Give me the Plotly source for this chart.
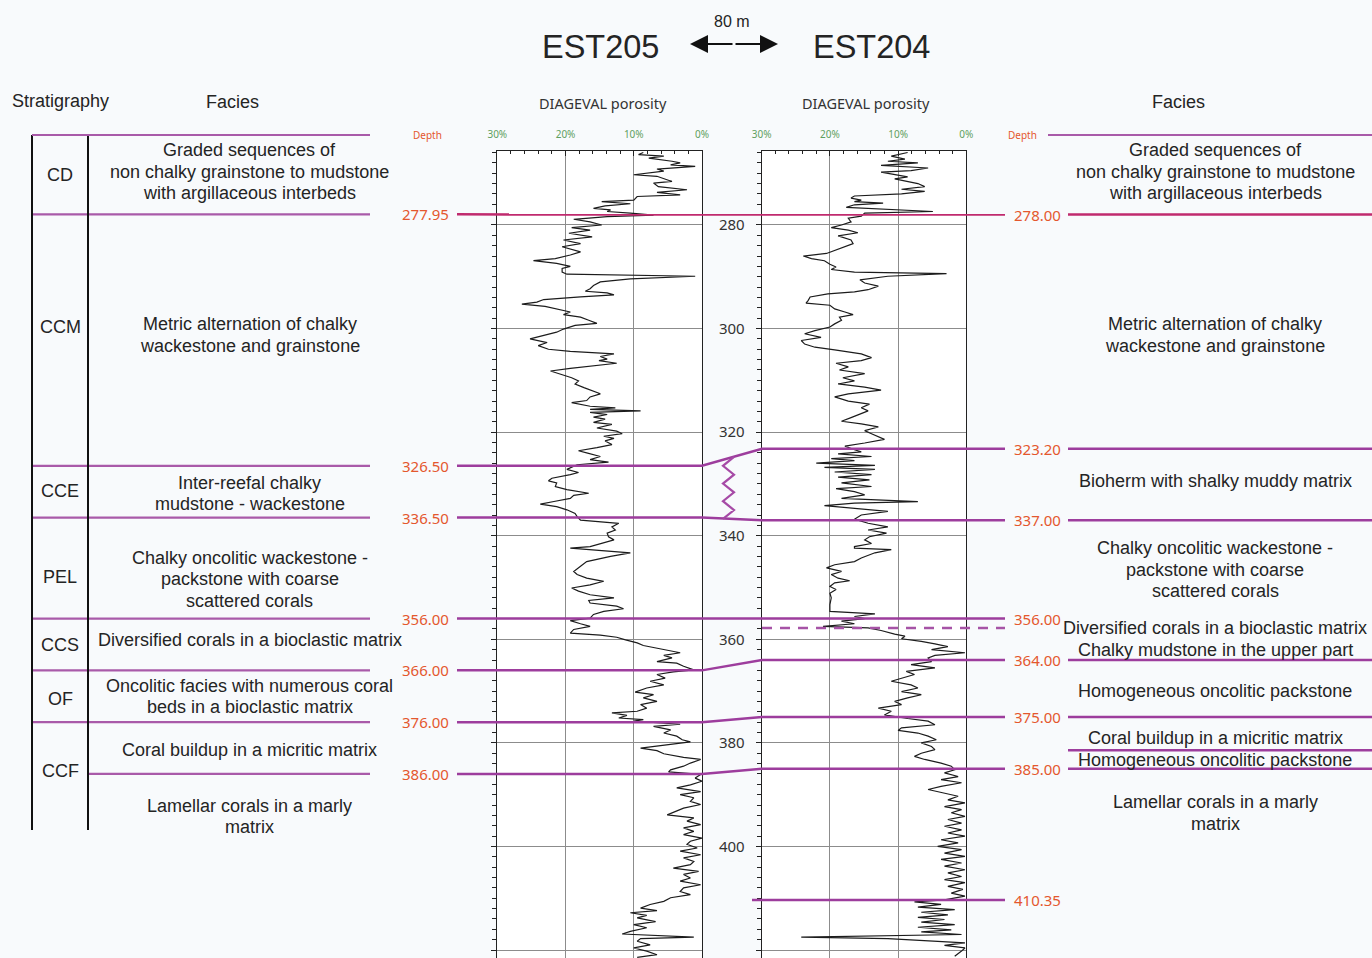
import plotly.graph_objects as go

# ---------------- porosity logs: depth (m) and DIAGEVAL porosity (%) ----------------
est205_depth = [
    266.0, 266.4, 266.7, 267.1, 267.7, 268.0, 268.4, 268.7, 269.2, 269.6,
    270.3, 270.6, 271.6, 271.9, 272.6, 273.2, 273.7, 274.2, 274.5, 275.2,
    275.5, 275.9, 276.3, 276.8, 277.1, 277.4, 277.7, 278.1, 278.4, 278.9,
    279.4, 280.0, 280.5, 281.0, 281.6, 282.3, 282.9, 283.6, 284.2, 285.2,
    285.8, 286.5, 286.9, 287.4, 288.0, 288.4, 289.1, 289.5, 289.9, 290.4,
    291.0, 291.7, 292.3, 292.8, 293.1, 293.5, 293.9, 294.4, 294.9, 295.3,
    295.7, 296.2, 296.8, 297.3, 297.8, 298.4, 299.0, 299.4, 300.1, 300.7,
    301.4, 302.0, 302.7, 303.3, 304.0, 304.4, 304.9, 305.4, 305.9, 306.2,
    306.7, 307.2, 307.7, 308.2, 308.8, 309.5, 310.1, 310.7, 311.4, 312.0,
    312.6, 313.2, 313.9, 314.3, 315.0, 315.3, 315.6, 315.9, 316.2, 316.6,
    317.1, 317.5, 318.1, 318.5, 319.2, 319.8, 320.3, 320.8, 321.2, 321.7,
    322.4, 323.0, 323.6, 324.0, 324.7, 325.3, 325.8, 326.3, 326.8, 327.2,
    327.8, 328.2, 328.9, 329.4, 329.8, 330.5, 331.1, 331.8, 332.2, 332.8,
    333.4, 333.9, 334.4, 335.0, 335.7, 336.3, 337.0, 337.6, 338.3, 338.9,
    339.5, 340.2, 340.8, 341.5, 342.1, 342.4, 343.3, 344.0, 345.0, 345.9,
    346.9, 347.5, 348.2, 348.8, 349.5, 350.1, 350.7, 351.4, 352.0, 352.5,
    353.0, 353.6, 354.1, 354.6, 355.2, 355.9, 356.4, 357.0, 357.5, 358.1,
    358.8, 359.2, 359.6, 360.1, 360.7, 361.2, 361.7, 362.2, 362.6, 363.1,
    363.6, 364.3, 364.6, 365.2, 365.9, 366.3, 366.8, 367.5, 368.1, 368.8,
    369.4, 370.2, 370.7, 371.3, 372.0, 372.6, 373.3, 373.9, 374.2, 374.7,
    375.2, 375.5, 375.8, 376.4, 376.8, 377.5, 378.1, 378.7, 379.4, 379.8,
    380.3, 381.0, 381.5, 382.1, 382.8, 383.2, 383.9, 384.5, 385.2, 385.6,
    386.1, 386.8, 387.4, 388.1, 388.7, 389.4, 390.0, 390.6, 391.3, 391.9,
    392.6, 393.2, 393.9, 394.5, 395.1, 395.8, 396.4, 397.1, 397.7, 398.4,
    399.0, 399.6, 400.3, 400.9, 401.6, 402.2, 402.9, 403.5, 404.2, 404.8,
    405.4, 406.1, 406.7, 407.4, 408.0, 408.7, 409.3, 409.9, 410.6, 411.2,
    411.9, 412.4, 412.8, 413.3, 413.8, 414.5, 415.1, 415.7, 416.4, 416.9,
    417.5, 417.8, 418.3, 419.0, 419.6, 420.2, 420.9, 421.4,
]
est205_phi = [
    8.6, 9.3, 5.6, 7.8, 4.4, 3.2, 4.6, 1.0, 6.6, 5.6,
    10.0, 6.6, 4.4, 7.1, 6.4, 2.2, 6.6, 3.2, 9.5, 10.0,
    14.7, 10.5, 14.2, 15.9, 13.4, 13.9, 10.5, 7.1, 13.9, 18.8,
    16.4, 14.7, 19.1, 16.4, 19.5, 16.1, 20.3, 17.8, 20.5, 17.8,
    19.3, 21.5, 24.7, 21.3, 19.3, 20.5, 20.5, 19.8, 1.0, 10.5,
    14.9, 15.9, 16.4, 17.1, 13.9, 12.9, 17.8, 23.2, 24.2, 26.4,
    23.0, 21.3, 19.3, 20.3, 17.8, 16.6, 15.4, 18.6, 20.3, 21.3,
    23.5, 25.2, 22.7, 24.0, 22.5, 19.3, 12.9, 14.9, 13.9, 15.1,
    12.5, 16.4, 19.3, 22.2, 20.8, 19.1, 18.1, 18.6, 17.3, 16.1,
    14.9, 16.4, 16.9, 19.1, 16.4, 12.7, 16.4, 9.0, 16.4, 13.9,
    15.9, 14.2, 15.9, 13.2, 15.4, 12.5, 11.7, 14.4, 12.9, 14.2,
    13.2, 15.4, 18.1, 16.9, 14.9, 16.4, 13.7, 18.3, 19.1, 19.8,
    18.1, 19.3, 22.0, 22.5, 21.3, 21.5, 19.8, 16.6, 18.8, 19.3,
    21.7, 23.7, 21.3, 19.8, 18.6, 18.3, 17.8, 12.2, 13.2, 12.7,
    13.9, 13.7, 12.9, 14.9, 16.4, 19.3, 10.5, 13.4, 16.9, 17.8,
    18.8, 18.3, 16.9, 14.4, 16.4, 19.1, 18.1, 16.4, 12.9, 16.6,
    16.4, 12.5, 11.5, 14.4, 15.9, 16.4, 19.3, 17.8, 16.4, 18.8,
    19.3, 14.9, 12.5, 11.2, 9.5, 8.6, 6.6, 4.6, 3.2, 5.6,
    4.4, 6.6, 3.7, 2.7, 1.2, 4.2, 6.6, 5.4, 7.6, 5.6,
    8.1, 9.8, 7.1, 8.6, 6.6, 9.0, 8.1, 9.5, 13.2, 11.0,
    12.2, 8.6, 10.0, 3.2, 7.1, 4.6, 5.6, 3.7, 2.9, 1.7,
    5.1, 9.0, 6.6, 5.6, 2.7, 0.2, 1.7, 2.7, 4.6, 4.9,
    0.2, 1.0, 0.0, 1.7, 3.7, 0.2, 3.2, 1.2, 1.7, 0.2,
    2.7, 3.7, 5.1, 1.2, 2.2, 0.2, 2.7, 1.2, 2.7, 0.0,
    1.7, 2.2, 0.7, 3.2, 0.2, 2.7, 1.2, 1.7, 4.2, 0.5,
    2.7, 1.7, 3.2, 0.2, 2.7, 3.2, 1.7, 4.6, 5.6, 7.6,
    9.0, 6.6, 10.5, 8.1, 9.5, 6.8, 10.0, 8.1, 10.5, 11.7,
    1.2, 9.0, 9.5, 7.6, 10.0, 8.1, 6.6, 9.5,
]

est204_depth = [
    266.0, 266.4, 266.7, 267.3, 267.7, 268.0, 268.5, 269.0, 269.5, 269.8,
    270.3, 270.7, 271.1, 271.6, 272.0, 272.6, 273.1, 273.5, 274.0, 274.4,
    274.8, 275.2, 275.5, 275.8, 276.1, 276.6, 277.1, 277.4, 277.7, 278.3,
    278.7, 279.4, 280.0, 280.5, 281.0, 281.5, 282.1, 282.9, 283.6, 284.2,
    284.9, 285.5, 286.0, 286.5, 286.9, 287.6, 288.1, 288.6, 289.1, 289.4,
    289.9, 290.6, 291.2, 291.8, 292.5, 292.9, 293.3, 293.9, 294.6, 295.1,
    295.5, 296.2, 296.8, 297.3, 297.8, 298.4, 299.1, 299.7, 300.4, 301.0,
    301.7, 302.3, 303.0, 303.6, 304.1, 304.9, 305.6, 306.2, 306.7, 307.4,
    308.0, 308.7, 309.5, 310.1, 310.7, 311.3, 311.9, 312.6, 313.2, 314.0,
    314.6, 315.3, 315.9, 316.6, 317.2, 317.9, 318.4, 319.0, 319.7, 320.3,
    321.0, 321.4, 322.1, 322.7, 323.4, 323.8, 324.2, 324.7, 325.1, 325.5,
    326.0, 326.4, 326.8, 327.2, 327.7, 328.2, 328.7, 329.2, 329.8, 330.5,
    330.9, 331.5, 332.1, 332.8, 333.4, 333.7, 334.2, 334.7, 335.3, 336.0,
    336.8, 337.6, 338.3, 338.9, 339.5, 340.2, 340.8, 341.5, 342.1, 342.4,
    342.7, 343.3, 344.3, 345.0, 345.6, 346.2, 346.9, 347.5, 348.2, 348.7,
    349.1, 349.8, 350.4, 351.1, 352.0, 353.3, 354.6, 355.1, 355.6, 356.0,
    356.5, 357.0, 357.5, 357.8, 358.3, 359.0, 359.4, 359.9, 360.4, 360.9,
    361.4, 362.0, 362.6, 363.1, 363.6, 364.3, 364.9, 365.5, 366.2, 366.8,
    367.5, 368.1, 368.8, 369.4, 370.1, 370.7, 371.3, 372.0, 372.6, 373.3,
    373.9, 374.6, 375.3, 375.8, 376.5, 377.1, 377.6, 378.1, 378.7, 379.4,
    380.0, 380.7, 381.3, 382.0, 382.6, 383.2, 383.9, 384.5, 385.2, 385.8,
    386.5, 387.1, 387.7, 388.4, 389.0, 389.7, 390.3, 391.0, 391.6, 392.3,
    392.9, 393.5, 394.2, 394.8, 395.5, 396.1, 396.8, 397.4, 398.0, 398.7,
    399.3, 400.0, 400.6, 401.3, 401.9, 402.5, 403.2, 403.8, 404.5, 405.1,
    405.8, 406.4, 407.0, 407.7, 408.3, 409.0, 409.6, 410.3, 410.7, 411.2,
    411.7, 412.2, 412.7, 413.2, 413.7, 414.1, 414.6, 415.1, 415.6, 416.1,
    416.5, 417.0, 417.5, 417.8, 418.2, 418.6, 419.1, 419.6, 420.2, 421.2,
]
est204_phi = [
    8.6, 10.0, 11.0, 9.0, 11.5, 7.1, 12.5, 5.6, 8.1, 12.5,
    10.0, 8.6, 10.5, 8.6, 7.1, 6.1, 9.5, 6.1, 9.5, 16.4,
    16.9, 15.4, 16.4, 12.2, 16.4, 17.6, 10.0, 4.9, 14.9, 15.4,
    17.3, 16.9, 18.3, 19.8, 17.3, 15.9, 18.8, 16.9, 16.6, 17.8,
    19.3, 20.5, 23.9, 22.7, 20.8, 20.0, 19.1, 19.8, 16.4, 2.9,
    11.5, 15.6, 14.9, 12.9, 14.4, 16.4, 20.3, 22.9, 23.2, 23.5,
    20.0, 19.3, 17.8, 16.6, 18.6, 18.3, 19.3, 20.0, 22.2, 23.7,
    21.3, 24.2, 23.7, 22.2, 19.3, 15.4, 13.9, 15.4, 19.1, 17.3,
    18.6, 14.9, 18.1, 16.4, 18.8, 14.9, 12.5, 17.3, 19.3, 17.3,
    14.2, 15.4, 14.4, 15.9, 16.9, 18.3, 15.4, 12.9, 14.9, 13.9,
    12.7, 12.0, 14.9, 17.8, 16.4, 15.4, 18.8, 13.9, 19.8, 16.4,
    22.0, 13.4, 20.8, 13.4, 19.3, 13.9, 18.8, 14.2, 18.3, 13.9,
    19.1, 16.4, 14.9, 18.3, 7.1, 16.4, 20.8, 16.4, 11.5, 15.4,
    16.4, 14.4, 11.5, 14.4, 11.7, 14.2, 14.9, 13.9, 16.4, 16.4,
    11.0, 13.4, 15.4, 16.4, 19.3, 20.5, 18.3, 19.8, 18.8, 17.1,
    19.3, 20.0, 19.1, 20.0, 19.8, 20.0, 20.0, 13.4, 16.4, 14.9,
    18.3, 16.4, 21.0, 14.4, 12.5, 10.5, 9.0, 9.5, 6.6, 4.6,
    2.7, 5.1, 0.2, 4.6, 5.6, 5.1, 8.1, 4.6, 8.8, 7.6,
    9.5, 11.0, 8.1, 7.1, 9.5, 6.6, 8.6, 10.5, 9.5, 12.9,
    11.0, 12.0, 8.6, 5.6, 4.6, 9.5, 10.0, 7.1, 5.6, 4.4,
    6.6, 5.1, 4.6, 6.6, 7.6, 6.1, 3.7, 2.2, 1.7, 3.2,
    1.2, 3.7, 0.7, 3.7, 5.6, 3.2, 1.2, 2.7, 0.2, 3.2,
    0.7, 2.2, 0.2, 2.7, 0.7, 3.2, 0.7, 2.7, 0.2, 3.7,
    1.2, 4.2, 0.7, 3.2, 0.2, 3.7, 0.7, 3.2, 0.2, 2.7,
    0.7, 3.2, 0.2, 2.7, 0.5, 2.2, 0.2, 3.2, 7.6, 3.7,
    7.1, 1.7, 6.6, 2.7, 7.1, 3.2, 6.6, 1.7, 7.1, 2.2,
    6.6, 0.7, 24.2, 11.5, 5.6, 0.2, 3.2, 0.2, 0.7, 1.7,
]

# ---------------- correlated unit boundaries (m) ----------------
est205_tops = [277.95, 326.50, 336.50, 356.00, 366.00, 376.00, 386.00]
est204_tops = [278.00, 323.20, 337.00, 356.00, 364.00, 375.00, 385.00]
est204_base_top = 410.35
est204_dashed_top = 357.8
est204_sub_top = 381.4

porosity_ticks = [30, 20, 10, 0]
depth_ticks = [280, 300, 320, 340, 360, 380, 400, 420]

strat_units = ["CD", "CCM", "CCE", "PEL", "CCS", "OF", "CCF"]
facies_est205 = [
    ["Graded sequences of", "non chalky grainstone to mudstone", "with argillaceous interbeds"],
    ["Metric alternation of chalky", "wackestone and grainstone"],
    ["Inter-reefal chalky", "mudstone - wackestone"],
    ["Chalky oncolitic wackestone -", "packstone with coarse", "scattered corals"],
    ["Diversified corals in a bioclastic matrix"],
    ["Oncolitic facies with numerous coral", "beds in a bioclastic matrix"],
    ["Coral buildup in a micritic matrix"],
    ["Lamellar corals in a marly", "matrix"],
]
facies_est204 = [
    ["Graded sequences of", "non chalky grainstone to mudstone", "with argillaceous interbeds"],
    ["Metric alternation of chalky", "wackestone and grainstone"],
    ["Bioherm with shalky muddy matrix"],
    ["Chalky oncolitic wackestone -", "packstone with coarse", "scattered corals"],
    ["Diversified corals in a bioclastic matrix"],
    ["Chalky mudstone in the upper part"],
    ["Homogeneous oncolitic packstone"],
    ["Coral buildup in a micritic matrix"],
    ["Homogeneous oncolitic packstone"],
    ["Lamellar corals in a marly", "matrix"],
]

# ---------------- page geometry ----------------
W, H = 1372, 958
PX_PER_M = 5.179                      # vertical depth scale
DEPTH_TOP_EDGE = 236.56               # depth at the top edge of the page
DEPTH_BOTTOM_EDGE = DEPTH_TOP_EDGE + H / PX_PER_M
LOG_TOP = 151
LOG_TOP_DEPTH = DEPTH_TOP_EDGE + LOG_TOP / PX_PER_M

TEXT_FONT = "Liberation Sans, Arial, sans-serif"
SMALL_FONT = "Noto Sans, Open Sans, sans-serif"
INK = "#242424"
PURPLE = "#9d3d9d"
CRIMSON = "#c02a6e"
TABLE_LINE = "#a95aa9"
DEPTH_RED = "#e4572e"
PCT_GREEN = "#5f9f5f"


def fx(px):
    return px / W


def fy(py):
    return 1 - py / H


fig = go.Figure()

# porosity curves
fig.add_trace(go.Scatter(x=est205_phi, y=est205_depth, xaxis="x", yaxis="y", mode="lines",
                         line=dict(color="#1c1c1c", width=1.2), hoverinfo="skip"))
fig.add_trace(go.Scatter(x=est204_phi, y=est204_depth, xaxis="x2", yaxis="y2", mode="lines",
                         line=dict(color="#1c1c1c", width=1.2), hoverinfo="skip"))


def page_line(xs, ys, color, width=2.5, dash=None):
    fig.add_trace(go.Scatter(x=xs, y=ys, xaxis="x3", yaxis="y3", mode="lines",
                             line=dict(color=color, width=width, dash=dash),
                             hoverinfo="skip"))


annotations = []


def label(text, x, y, size, color=INK, family=TEXT_FONT, xanchor="center", ref="paper"):
    if ref == "paper":
        annotations.append(dict(text=text, x=fx(x), y=fy(y), xref="paper", yref="paper",
                                xanchor=xanchor, yanchor="middle", showarrow=False,
                                font=dict(size=size, color=color, family=family)))
    else:
        annotations.append(dict(text=text, x=x, y=y, xref="x3", yref="y3",
                                xanchor=xanchor, yanchor="middle", showarrow=False,
                                font=dict(size=size, color=color, family=family)))


# boundaries: table line on the left, correlation across both logs, table line on the right
for i, (dl, dr) in enumerate(zip(est205_tops, est204_tops)):
    col = CRIMSON if i == 0 else PURPLE
    x_start = 88 if i == len(est205_tops) - 1 else 32
    page_line([x_start, 370], [dl, dl], TABLE_LINE, width=2.2)
    page_line([457, 702, 762, 1005], [dl, dl, dr, dr], col)
    if dr != 356.00:
        page_line([1068, W], [dr, dr], col)
    label(f"{dl:.2f}", 451, dl, 15, DEPTH_RED, SMALL_FONT, "right", ref="depth")
    label(f"{dr:.2f}", 1012, dr, 15, DEPTH_RED, SMALL_FONT, "left", ref="depth")

page_line([752, 1005], [est204_base_top, est204_base_top], PURPLE)
label(f"{est204_base_top:.2f}", 1012, est204_base_top, 15, DEPTH_RED, SMALL_FONT, "left", ref="depth")
page_line([762, 1005], [est204_dashed_top, est204_dashed_top], "#a653a6", width=2.5, dash="10px,8px")
page_line([1068, W], [est204_sub_top, est204_sub_top], PURPLE)

# lateral facies change symbol between the two logs
z_top = est205_tops[1] + (733 - 702) / 60 * (est204_tops[1] - est205_tops[1])
z_bot = est205_tops[2] + (733 - 702) / 60 * (est204_tops[2] - est205_tops[2])
n_pts = 8
zz_y = [z_top + k * (z_bot - z_top) / (n_pts - 1) for k in range(n_pts)]
zz_x = [734 if k % 2 == 0 else 723 for k in range(n_pts)]
page_line(zz_x, zz_y, "#a64aa6", width=2.2)

# ---------------- texts ----------------
label("EST205", 600, 47, 32.5)
label("EST204", 871, 47, 32.5)
label("80 m", 732, 21, 16)
label("Stratigraphy", 60, 101, 18)
label("Facies", 233, 102, 18)
label("Facies", 1178, 102, 18)
label("DIAGEVAL porosity", 603, 103, 14.5, "#333333", SMALL_FONT)
label("DIAGEVAL porosity", 866, 103, 14.5, "#333333", SMALL_FONT)
label("Depth", 427, 135, 10, DEPTH_RED, SMALL_FONT)
label("Depth", 1022, 135, 10, DEPTH_RED, SMALL_FONT)

strat_y = [175, 327, 491, 577, 645, 699, 771]
for code, yy in zip(strat_units, strat_y):
    label(code, 60, yy, 18)

LINE_GAP = 21.5


def facies_block(lines, cx, cy):
    n = len(lines)
    for k, t in enumerate(lines):
        label(t, cx, cy + (k - (n - 1) / 2) * LINE_GAP, 18)


left_facies_y = [172, 335, 493.5, 579, 640, 696.5, 750, 816.5]
for lines, yy in zip(facies_est205, left_facies_y):
    facies_block(lines, 250, yy)

right_facies_y = [172, 335, 481, 569.5, 628, 650, 691, 738, 760, 813]
for lines, yy in zip(facies_est204, right_facies_y):
    facies_block(lines, 1215, yy)

# distance arrow between the wells
for tip, off in [(690, 44), (778, -44)]:
    annotations.append(dict(x=fx(tip), y=fy(44), xref="paper", yref="paper", text="",
                            showarrow=True, ax=off, ay=0, arrowhead=2, arrowsize=2,
                            arrowwidth=1.8, arrowcolor="#111111", standoff=0))

# ---------------- shapes ----------------
shapes = [
    # stratigraphy column
    dict(type="line", xref="paper", yref="paper", x0=fx(32), x1=fx(32), y0=fy(135), y1=fy(830),
         line=dict(color="#111111", width=2)),
    dict(type="line", xref="paper", yref="paper", x0=fx(88), x1=fx(88), y0=fy(135), y1=fy(830),
         line=dict(color="#111111", width=2)),
    # header lines
    dict(type="line", xref="paper", yref="paper", x0=fx(32), x1=fx(370), y0=fy(135), y1=fy(135),
         line=dict(color=TABLE_LINE, width=2.2)),
    dict(type="line", xref="paper", yref="paper", x0=fx(1048), x1=1, y0=fy(135), y1=fy(135),
         line=dict(color=TABLE_LINE, width=2.2)),
]
for xa, ya in [("x", "y"), ("x2", "y2")]:
    shapes.append(dict(type="rect", xref=f"{xa} domain", yref=f"{ya} domain", x0=0, x1=1, y0=0, y1=1,
                       fillcolor="#ffffff", line=dict(width=0), layer="below"))

# ---------------- axes ----------------
log_y_domain = [0, fy(LOG_TOP)]
x_common = dict(range=[30, 0], side="top", tickmode="array", tickvals=porosity_ticks,
                ticktext=[f"{v}%" for v in porosity_ticks],
                tickfont=dict(size=10, color=PCT_GREEN, family=SMALL_FONT),
                ticks="inside", ticklen=5, tickcolor="#222222", ticklabelstandoff=8,
                minor=dict(dtick=2, tick0=0, ticks="inside", ticklen=3, tickcolor="#222222"),
                showgrid=True, gridcolor="#8c8c8c", gridwidth=1, zeroline=False,
                showline=True, linecolor="#222222", linewidth=1, mirror=False,
                automargin=False, fixedrange=True)
y_common = dict(range=[DEPTH_BOTTOM_EDGE, LOG_TOP_DEPTH], domain=log_y_domain,
                tickmode="array", tickvals=depth_ticks, ticks="outside", ticklen=5,
                tickcolor="#222222",
                minor=dict(dtick=2, tick0=0, ticks="outside", ticklen=4, tickcolor="#222222"),
                showgrid=True, gridcolor="#8c8c8c", gridwidth=1, zeroline=False,
                showline=True, linecolor="#222222", linewidth=1, mirror=True,
                automargin=False, fixedrange=True)

fig.update_layout(
    width=W, height=H,
    autosize=False,
    margin=dict(l=0, r=0, t=0, b=0, pad=0, autoexpand=False),
    paper_bgcolor="#f8fafc",
    plot_bgcolor="rgba(0,0,0,0)",
    showlegend=False,
    xaxis=dict(domain=[fx(497.3), fx(702)], anchor="y", **x_common),
    yaxis=dict(anchor="x", showticklabels=False, **y_common),
    xaxis2=dict(domain=[fx(761.7), fx(966.3)], anchor="y2", **x_common),
    yaxis2=dict(anchor="x2", showticklabels=True, ticklabelstandoff=8,
                tickfont=dict(size=15, color="#333333", family=SMALL_FONT), **y_common),
    xaxis3=dict(domain=[0, 1], range=[0, W], visible=False, anchor="y3",
                automargin=False, fixedrange=True),
    yaxis3=dict(domain=[0, 1], range=[DEPTH_BOTTOM_EDGE, DEPTH_TOP_EDGE], visible=False,
                anchor="x3", automargin=False, fixedrange=True),
    annotations=annotations,
    shapes=shapes,
)

fig.write_html("out.html", config={"displayModeBar": False})
